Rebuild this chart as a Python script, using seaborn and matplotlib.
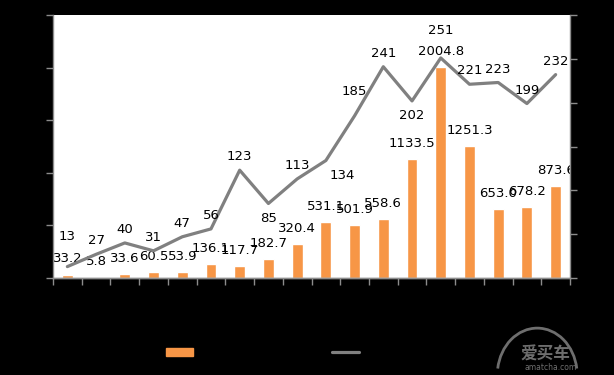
import numpy as np
import pandas as pd
import seaborn as sns
import matplotlib.pyplot as plt
from matplotlib.patches import Patch, Arc
from matplotlib.lines import Line2D

# values
bar_values = [33.2, 5.8, 33.6, 60.5, 53.9, 136.1, 117.7, 182.7, 320.4,
              531.1, 501.9, 558.6, 1133.5, 2004.8, 1251.3, 653.0, 678.2, 873.6]
line_values = [13, 27, 40, 31, 47, 56, 123, 85, 113,
               134, 185, 241, 202, 251, 221, 223, 199, 232]
categories = list(range(len(bar_values)))
left_ticks = [0, 500, 1000, 1500, 2000, 2500]
right_ticks = [0, 50, 100, 150, 200, 250, 300]

df = pd.DataFrame({'cat': categories, 'bar': bar_values, 'line': line_values})

sns.set_style('white')
plt.rcParams['font.family'] = ['DejaVu Sans', 'Noto Sans CJK SC']

orange = '#F79646'
grey = '#808080'

fig = plt.figure(figsize=(6.14, 3.75), dpi=100, facecolor='black')
ax = fig.add_axes([53 / 614, 1 - 278 / 375, 517 / 614, 263 / 375])
ax.set_facecolor('white')

sns.barplot(data=df, x='cat', y='bar', color=orange, saturation=1,
            width=0.38, ax=ax)
ax.set_xlim(-0.5, len(categories) - 0.5)
ax.set_ylim(0, 2500)
ax.set_yticks(left_ticks)
ax.set_yticklabels([])
ax.set_xticks(np.arange(len(categories) + 1) - 0.5)
ax.set_xticklabels([])
ax.set_xlabel('')
ax.set_ylabel('')

ax2 = ax.twinx()
sns.lineplot(data=df, x='cat', y='line', color=grey, linewidth=2.3, ax=ax2)
ax2.set_ylim(0, 300)
ax2.set_yticks(right_ticks)
ax2.set_yticklabels([])
ax2.set_ylabel('')
ax2.set_xlim(-0.5, len(categories) - 0.5)

for a in (ax, ax2):
    a.spines['top'].set_visible(False)
    for s in ('left', 'right', 'bottom'):
        a.spines[s].set_color('#8c8c8c')
        a.spines[s].set_linewidth(1)
    a.tick_params(axis='both', which='both', direction='out', length=5,
                  color='#8c8c8c', width=1, left=(a is ax), right=(a is ax2),
                  bottom=(a is ax))
ax2.spines['left'].set_visible(False)
ax.spines['right'].set_visible(False)

# bar labels
for i, v in enumerate(bar_values):
    ax.annotate('%.1f' % v, (i, v), xytext=(0, 6.5), textcoords='offset points',
                ha='center', va='bottom', fontsize=9.5, color='black')

# line labels (a few sit below the line)
below = {7, 9, 12}
extra = {0: 12, 10: 8, 13: 10}
for i, v in enumerate(line_values):
    if i in below:
        off, va = -6, 'top'
    else:
        off, va = 5 + extra.get(i, 0), 'bottom'
    dx = 12 if i == 9 else 0
    ax2.annotate(str(v), (i, v), xytext=(dx, off), textcoords='offset points',
                 ha='center', va=va, fontsize=9.5, color='black')

# legend (labels are black on black in the original)
handles = [Patch(facecolor=orange, edgecolor=orange),
           Line2D([0], [0], color=grey, linewidth=2.3)]
leg = fig.legend(handles, ['', ''], loc='center', bbox_to_anchor=(0.437, 0.059),
                 ncol=2, frameon=False, columnspacing=9.2, handlelength=1.95,
                 handleheight=0.6, handletextpad=0.8, fontsize=10)

# watermark
wm = '#6e6e6e'
fig.text(0.888, 0.055, '爱买车', family=['Noto Sans CJK SC', 'DejaVu Sans'],
         fontsize=12, fontweight='bold', color=wm, ha='center', va='center')
fig.text(0.896, 0.019, 'amatcha.com', fontsize=5.5, color=wm,
         ha='center', va='center')
fig.add_artist(Arc((0.875, 0.0), 0.13, 0.25, theta1=15, theta2=165,
                   transform=fig.transFigure, color=wm, linewidth=2))

fig.savefig('out.png', dpi=100, facecolor='black')
